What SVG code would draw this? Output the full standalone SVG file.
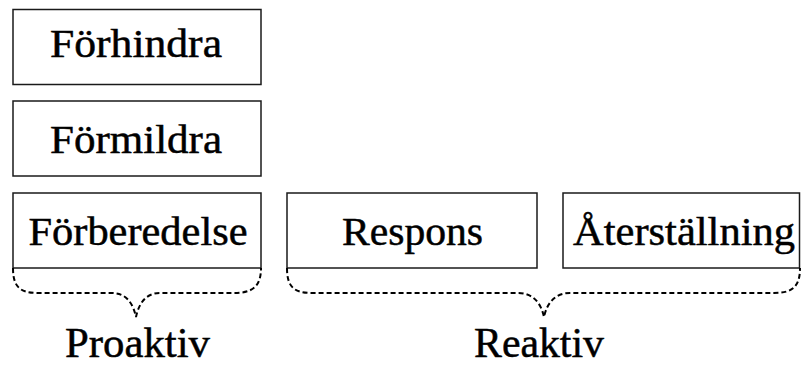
<svg xmlns="http://www.w3.org/2000/svg" width="801" height="365" viewBox="0 0 801 365">
  <style>
    .box { fill: #ffffff; stroke: #1a1a1a; stroke-width: 1.5; }
    .lbl { font-family: "Liberation Serif", "DejaVu Serif", serif; font-size: 40px; fill: #000000; stroke: #000000; stroke-width: 0.5; text-anchor: middle; }
    .big { font-size: 42px; }
    .brace { fill: none; stroke: #000000; stroke-width: 2; stroke-dasharray: 5 3; }
  </style>
  <rect width="801" height="365" fill="#ffffff"/>
  <g id="forhindra">
    <rect class="box" x="13" y="9.5" width="248" height="75"/>
    <text class="lbl" x="136" y="57" textLength="172" lengthAdjust="spacingAndGlyphs">Förhindra</text>
  </g>
  <g id="formildra">
    <rect class="box" x="13" y="101" width="248" height="75"/>
    <text class="lbl" x="136" y="153" textLength="172" lengthAdjust="spacingAndGlyphs">Förmildra</text>
  </g>
  <g id="forberedelse">
    <rect class="box" x="13" y="193" width="248" height="75"/>
    <text class="lbl" x="138" y="245" textLength="219" lengthAdjust="spacingAndGlyphs">Förberedelse</text>
  </g>
  <g id="respons">
    <rect class="box" x="287" y="193" width="250" height="75"/>
    <text class="lbl" x="412.5" y="245" textLength="141" lengthAdjust="spacingAndGlyphs">Respons</text>
  </g>
  <g id="aterstallning">
    <rect class="box" x="563" y="193" width="236.5" height="75"/>
    <text class="lbl" x="684" y="245" textLength="222" lengthAdjust="spacingAndGlyphs">Återställning</text>
  </g>
  <g id="connectors">
    <path class="brace" d="M13,268 C13,287 20,293 38,293 L112,293 C126,293 133,303 136,317 C139,303 146,293 160,293 L234,293 C252,293 261,287 261,268"/>
    <path class="brace" d="M287,268 C287,287 294,293 312,293 L518,293 C533,293 541,303 544,317 C547,303 555,293 570,293 L774,293 C792,293 800,287 800,268"/>
  </g>
  <g id="proaktiv">
    <text class="lbl big" x="137.5" y="357" textLength="145" lengthAdjust="spacingAndGlyphs">Proaktiv</text>
  </g>
  <g id="reaktiv">
    <text class="lbl big" x="539" y="357" textLength="130" lengthAdjust="spacingAndGlyphs">Reaktiv</text>
  </g>
</svg>
